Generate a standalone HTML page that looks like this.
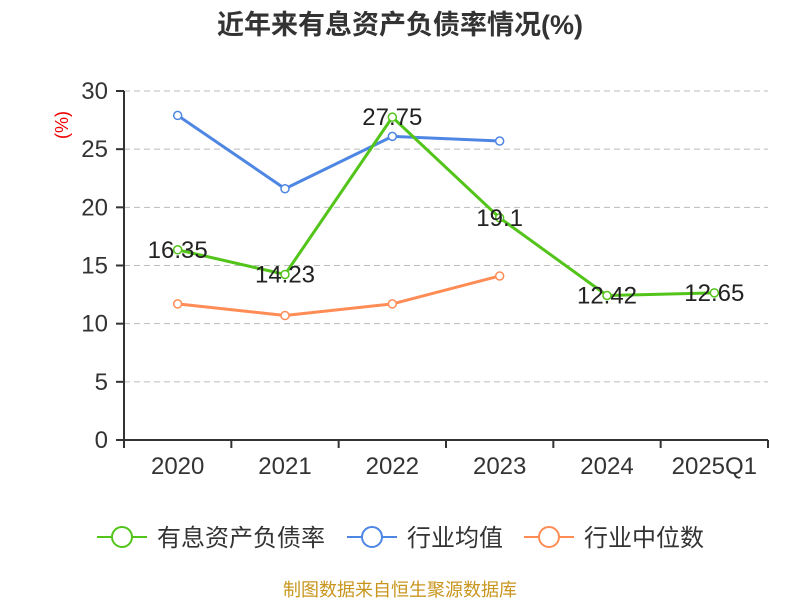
<!DOCTYPE html>
<html><head><meta charset="utf-8"><style>
body{margin:0;background:#fff;}
svg{display:block;font-family:"Liberation Sans","Noto Sans CJK SC",sans-serif;}
</style></head><body>
<svg id="c" width="800" height="600">
<text x="400" y="34" text-anchor="middle" font-size="27" font-weight="bold" fill="#333">近年来有息资产负债率情况(%)</text>
<text transform="translate(68,125) rotate(-90)" text-anchor="middle" font-size="18" fill="#e00">(%)</text>
<g id="grid"></g><g id="axes"></g><g id="series"></g>
<g>
<g><line x1="97" y1="537" x2="147" y2="537" stroke="#52c41a" stroke-width="2"/><circle cx="122" cy="537" r="10" fill="#fff" stroke="#52c41a" stroke-width="2"/><text x="157" y="546" font-size="24" fill="#333">有息资产负债率</text></g>
<g><line x1="347" y1="537" x2="397" y2="537" stroke="#4e86e4" stroke-width="2"/><circle cx="372" cy="537" r="10" fill="#fff" stroke="#4e86e4" stroke-width="2"/><text x="407" y="546" font-size="24" fill="#333">行业均值</text></g>
<g><line x1="524" y1="537" x2="574" y2="537" stroke="#ff8c55" stroke-width="2"/><circle cx="549" cy="537" r="10" fill="#fff" stroke="#ff8c55" stroke-width="2"/><text x="584" y="546" font-size="24" fill="#333">行业中位数</text></g>
</g>
<text x="400" y="596" text-anchor="middle" font-size="18" fill="#c8961e">制图数据来自恒生聚源数据库</text>
</svg>
<script>
const categories=["2020","2021","2022","2023","2024","2025Q1"];
const debtRatio=[16.35,14.23,27.75,19.1,12.42,12.65];
const industryAvg=[27.9,21.6,26.1,25.7,null,null];
const industryMedian=[11.7,10.7,11.7,14.1,null,null];
const yTicks=[0,5,10,15,20,25,30];
const NS="http://www.w3.org/2000/svg";
const x0=124,x1=768,y0=440,yTop=91,yMax=30;
const bw=(x1-x0)/categories.length;
const X=i=>x0+bw*(i+0.5);
const Y=v=>y0-(v/yMax)*(y0-yTop);
function mk(p,t,a){const e=document.createElementNS(NS,t);for(const k in a)e.setAttribute(k,a[k]);p.appendChild(e);return e;}
const grid=document.getElementById('grid'),axes=document.getElementById('axes'),ser=document.getElementById('series');
yTicks.forEach(v=>{
  if(v>0){const g=mk(grid,'line',{x1:x0,x2:x1,y1:Y(v),y2:Y(v),stroke:'#bbb','stroke-dasharray':'6,4'});
  
  }
  const t=mk(axes,'line',{x1:x0-8,x2:x0,y1:Y(v),y2:Y(v),stroke:'#333','stroke-width':2});
  
  
  const l=mk(axes,'text',{x:x0-16,y:Y(v)+8,'text-anchor':'end','font-size':24,fill:'#333'});l.textContent=v;
  
  
});
const ya=mk(axes,'line',{x1:x0,x2:x0,y1:yTop,y2:y0,stroke:'#333','stroke-width':2});


const xa=mk(axes,'line',{x1:x0-8,x2:x1,y1:y0,y2:y0,stroke:'#333','stroke-width':2});


for(let i=0;i<=categories.length;i++){const t=mk(axes,'line',{x1:x0+bw*i,x2:x0+bw*i,y1:y0,y2:y0+8,stroke:'#333','stroke-width':2});

}
categories.forEach((c,i)=>{const l=mk(axes,'text',{x:X(i),y:y0+34,'text-anchor':'middle','font-size':24,fill:'#333'});l.textContent=c;

});
function draw(data,color,name,labels){
  const pts=data.map((v,i)=>v==null?null:[X(i),Y(v)]).filter(p=>p);
  const pl=mk(ser,'polyline',{points:pts.map(p=>p.join(',')).join(' '),fill:'none',stroke:color,'stroke-width':3});
  
  
  data.forEach((v,i)=>{if(v==null)return;
    const c=mk(ser,'circle',{cx:X(i),cy:Y(v),r:4,fill:'#fff',stroke:color,'stroke-width':1.5});
    
    
    if(labels){const t=mk(ser,'text',{x:X(i),y:Y(v)+8,'text-anchor':'middle','font-size':24,fill:'#222'});t.textContent=v;
    
    }
  });
}
draw(industryMedian,'#ff8c55','industry-median',false);
draw(industryAvg,'#4e86e4','industry-avg',false);
draw(debtRatio,'#52c41a','debt-ratio',true);
</script>
</body></html>
